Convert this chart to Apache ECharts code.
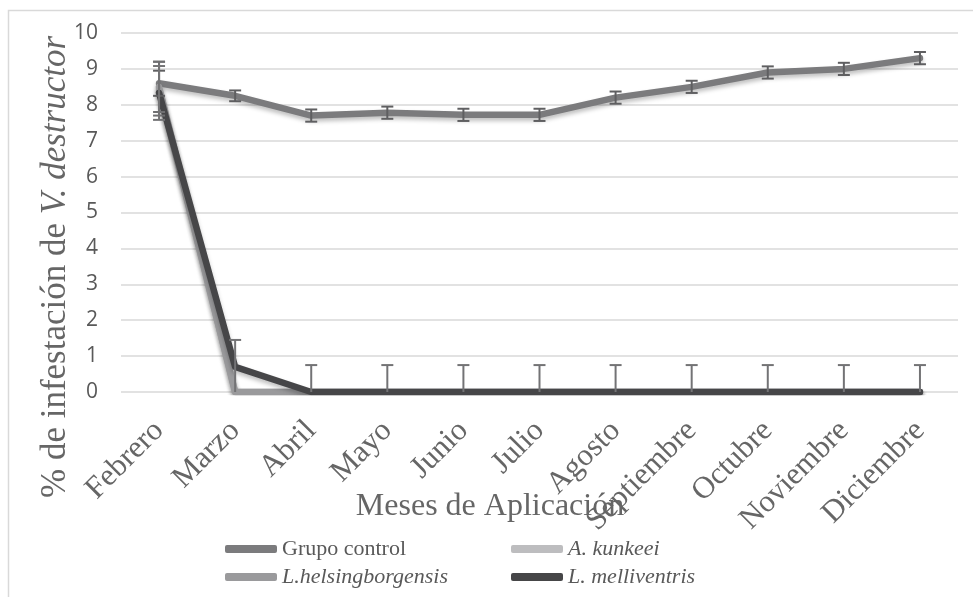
<!DOCTYPE html>
<html>
<head>
<meta charset="utf-8">
<script src="https://cdn.jsdelivr.net/npm/echarts@6/dist/echarts.min.js"></script>
<style>html,body{margin:0;padding:0;background:#fff}#c{width:973px;height:597px}</style>
</head>
<body>
<div id="c"></div>
<script>
var months = ['Febrero','Marzo','Abril','Mayo','Junio','Julio','Agosto','Septiembre','Octubre','Noviembre','Diciembre'];
var yTicks = [0,1,2,3,4,5,6,7,8,9,10];
var seriesNames = ['Grupo control','A. kunkeei','L.helsingborgensis','L. melliventris'];
var control      = [8.6, 8.25, 7.7, 7.78, 7.72, 7.72, 8.2, 8.5, 8.9, 9.0, 9.3];
var controlErr   = [0.35, 0.15, 0.17, 0.17, 0.17, 0.17, 0.17, 0.17, 0.17, 0.17, 0.17];
var kunkeei      = [8.45, 0, 0, 0, 0, 0, 0, 0, 0, 0, 0];
var kunkeeiErr   = [0.75, null, null, null, null, null, null, null, null, null, null];
var helsing      = [8.5, 0, 0, 0, 0, 0, 0, 0, 0, 0, 0];
var helsingErr   = [0.7, null, null, null, null, null, null, null, null, null, null];
var melli        = [8.33, 0.7, 0, 0, 0, 0, 0, 0, 0, 0, 0];
var melliErr     = [0.75, 0.75, 0.75, 0.75, 0.75, 0.75, 0.75, 0.75, 0.75, 0.75, 0.75];
var yTitleNormal = '% de infestación de ';
var yTitleItalic = 'V. destructor';
var xTitle = 'Meses de Aplicación';

var colors = ['#7b7b7d', '#bdbdbf', '#9a9a9c', '#464648'];
var errColors = ['#5f5f61', '#6f6f71', '#6f6f71', '#737375'];

function errData(vals, errs) {
  var out = [];
  for (var i = 0; i < vals.length; i++) {
    if (errs[i] == null) continue;
    out.push([i, Math.max(0, vals[i] - errs[i]), vals[i] + errs[i]]);
  }
  return out;
}
function errSeries(vals, errs, color) {
  return {
    type: 'custom', z: 5, silent: true,
    data: errData(vals, errs),
    renderItem: function (params, api) {
      var x = api.value(0), lo = api.value(1), hi = api.value(2);
      var pHi = api.coord([x, hi]), pLo = api.coord([x, lo]);
      var w = 6;
      var st = {stroke: color, lineWidth: 2};
      var kids = [
        {type: 'line', shape: {x1: pHi[0], y1: pHi[1], x2: pLo[0], y2: pLo[1]}, style: st},
        {type: 'line', shape: {x1: pHi[0]-w, y1: pHi[1], x2: pHi[0]+w, y2: pHi[1]}, style: st}
      ];
      if (lo > 0) kids.push({type: 'line', shape: {x1: pLo[0]-w, y1: pLo[1], x2: pLo[0]+w, y2: pLo[1]}, style: st});
      return {type: 'group', children: kids};
    }
  };
}
function lineSeries(name, vals, color) {
  return {
    name: name, type: 'line', data: vals, symbol: 'none', z: 3,
    lineStyle: {color: color, width: 6.5, cap: 'round', join: 'round',
      shadowColor: 'rgba(0,0,0,0.25)', shadowBlur: 4, shadowOffsetY: 3},
    itemStyle: {color: color}
  };
}

var serif = 'Liberation Serif';
var legendText = {
  fontFamily: serif, fontSize: 22, color: '#595959',
  rich: {
    n: {fontFamily: serif, fontSize: 22, color: '#595959'},
    i: {fontFamily: serif, fontSize: 22, color: '#595959', fontStyle: 'italic'}
  }
};
function legendFmt(name) { return name === 'Grupo control' ? '{n|' + name + '}' : '{i|' + name + '}'; }

var ctx = document.createElement('canvas').getContext('2d');
var ytSize = 35;
ctx.font = ytSize + 'px "Liberation Serif"';
var w1 = ctx.measureText(yTitleNormal).width;
ctx.font = 'italic ' + ytSize + 'px "Liberation Serif"';
var w2 = ctx.measureText(yTitleItalic).width;
var tot = w1 + w2;

var chart = echarts.init(document.getElementById('c'));
chart.setOption({
  animation: false,
  color: colors,
  graphic: [
    {type: 'rect', left: 6, top: 8, shape: {width: 1100, height: 800},
     style: {fill: 'none', stroke: '#d9d9d9', lineWidth: 1.5}, z: -1},
    {type: 'group', x: 56, y: 267, rotation: Math.PI / 2, children: [
      {type: 'text', x: -tot / 2, y: 0,
       style: {text: yTitleNormal, align: 'left', verticalAlign: 'middle',
         fontFamily: serif, fontSize: ytSize, fill: '#666666'}},
      {type: 'text', x: -tot / 2 + w1, y: 0,
       style: {text: yTitleItalic, align: 'left', verticalAlign: 'middle',
         fontFamily: serif, fontSize: ytSize, fontStyle: 'italic', fill: '#666666'}}
    ]},
    {type: 'text', x: 490, y: 507, z: 1,
     style: {text: xTitle, align: 'center', verticalAlign: 'middle',
       fontFamily: serif, fontSize: 32, fill: '#666666'}}
  ],
  grid: {left: 121, right: 15, top: 33, bottom: 205},
  legend: [
    {data: [seriesNames[0], seriesNames[2]], orient: 'vertical', left: 220, top: 533,
     itemWidth: 52, itemHeight: 8, itemGap: 6, icon: 'roundRect', textStyle: legendText, formatter: legendFmt},
    {data: [seriesNames[1], seriesNames[3]], orient: 'vertical', left: 506, top: 533,
     itemWidth: 52, itemHeight: 8, itemGap: 6, icon: 'roundRect', textStyle: legendText, formatter: legendFmt}
  ],
  xAxis: {
    type: 'category', data: months, boundaryGap: true,
    axisLine: {show: false}, axisTick: {show: false},
    axisLabel: {interval: 0, rotate: 45, fontFamily: serif, fontSize: 31, color: '#666666', margin: 34}
  },
  yAxis: {
    type: 'value', min: yTicks[0], max: yTicks[yTicks.length-1], interval: 1,
    axisLine: {show: false}, axisTick: {show: false},
    splitLine: {lineStyle: {color: '#d9d9d9', width: 1.5}},
    axisLabel: {fontFamily: 'Open Sans', fontSize: 21, color: '#595959', margin: 23}
  },
  series: [
    lineSeries(seriesNames[0], control, colors[0]),
    lineSeries(seriesNames[1], kunkeei, colors[1]),
    lineSeries(seriesNames[2], helsing, colors[2]),
    lineSeries(seriesNames[3], melli, colors[3]),
    errSeries(control, controlErr, errColors[0]),
    errSeries(kunkeei, kunkeeiErr, errColors[1]),
    errSeries(helsing, helsingErr, errColors[2]),
    errSeries(melli, melliErr, errColors[3])
  ]
});
</script>
</body>
</html>
